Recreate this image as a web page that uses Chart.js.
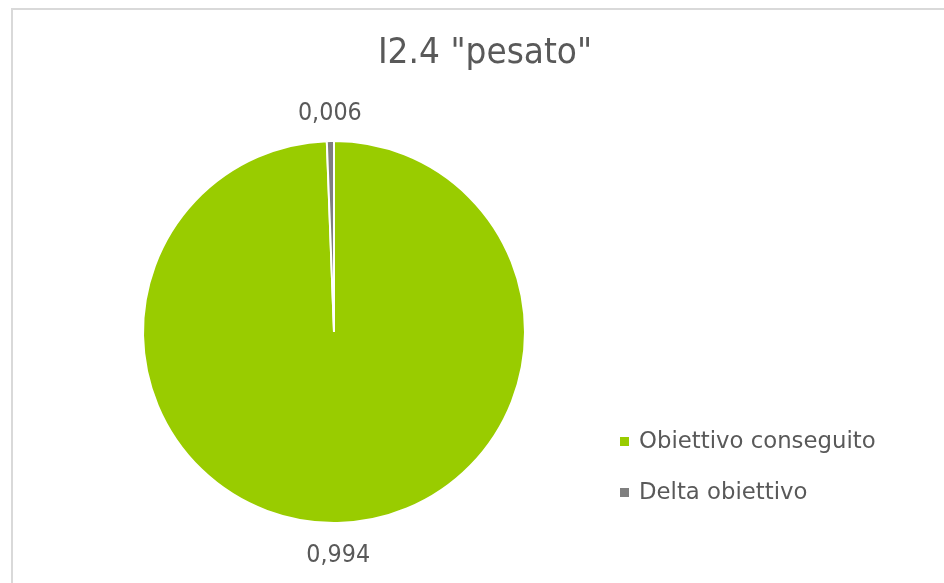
<!DOCTYPE html>
<html>
<head>
<meta charset="utf-8">
<script src="https://cdn.jsdelivr.net/npm/chart.js@4"></script>
<style>
  html, body { margin: 0; padding: 0; background: #fff; }
  #wrap { position: relative; width: 944px; height: 583px; overflow: hidden; }
  #frame { position: absolute; left: 11px; top: 8px; right: -4px; bottom: -4px;
           border-left: 2px solid #d9d9d9; border-top: 2px solid #d9d9d9; }
  canvas { position: absolute; left: 0; top: 0; }
</style>
</head>
<body>
<div id="wrap">
  <div id="frame"></div>
  <canvas id="pieChart" width="944" height="583"></canvas>
</div>
<script>
const chartTitle = 'I2.4 "pesato"';
const categories = ['Obiettivo conseguito', 'Delta obiettivo'];
const values = [0.994, 0.006];
const sliceColors = ['#99cc00', '#7f7f7f'];

const textColor = '#595959';
const fontFamily = '"DejaVu Sans", Verdana, sans-serif';

function formatValue(v) {
  return v.toFixed(3).replace('.', ',');
}

// narrow the glyphs a bit so the text looks like the office font
function drawText(ctx, text, x, y, size, squeeze) {
  ctx.save();
  ctx.font = size + 'px ' + fontFamily;
  ctx.translate(x, y);
  ctx.scale(squeeze, 1);
  ctx.fillText(text, 0, 0);
  ctx.restore();
}

// title, value labels outside each slice and a legend on the right
const decorations = {
  id: 'decorations',
  afterDraw(chart) {
    const ctx = chart.ctx;
    ctx.save();
    ctx.fillStyle = textColor;
    ctx.textAlign = 'center';
    ctx.textBaseline = 'middle';

    drawText(ctx, chartTitle, 485, 54, 35, 0.94);

    const arcs = chart.getDatasetMeta(0).data;
    arcs.forEach((arc, i) => {
      const mid = (arc.startAngle + arc.endAngle) / 2;
      const r = arc.outerRadius + 30;
      const x = arc.x + Math.cos(mid) * r;
      const y = arc.y + Math.sin(mid) * r + 3;
      drawText(ctx, formatValue(chart.data.datasets[0].data[i]), x, y, 24, 0.93);
    });

    ctx.textAlign = 'left';
    chart.data.labels.forEach((label, i) => {
      const y = 442 + i * 51;
      ctx.fillStyle = chart.data.datasets[0].backgroundColor[i];
      ctx.fillRect(620, y - 5, 9, 9);
      ctx.fillStyle = textColor;
      drawText(ctx, label, 639, y, 23.5, 0.97);
    });
    ctx.restore();
  }
};

const ctx = document.getElementById('pieChart').getContext('2d');
new Chart(ctx, {
  type: 'pie',
  data: {
    labels: categories,
    datasets: [{
      data: values,
      backgroundColor: sliceColors,
      borderColor: '#ffffff',
      borderWidth: 2,
    }],
  },
  options: {
    responsive: false,
    animation: false,
    layout: {
      padding: { left: 142, right: 418, top: 140, bottom: 59 },
    },
    plugins: {
      legend: { display: false },
      tooltip: { enabled: false },
    },
  },
  plugins: [decorations],
});
</script>
</body>
</html>
